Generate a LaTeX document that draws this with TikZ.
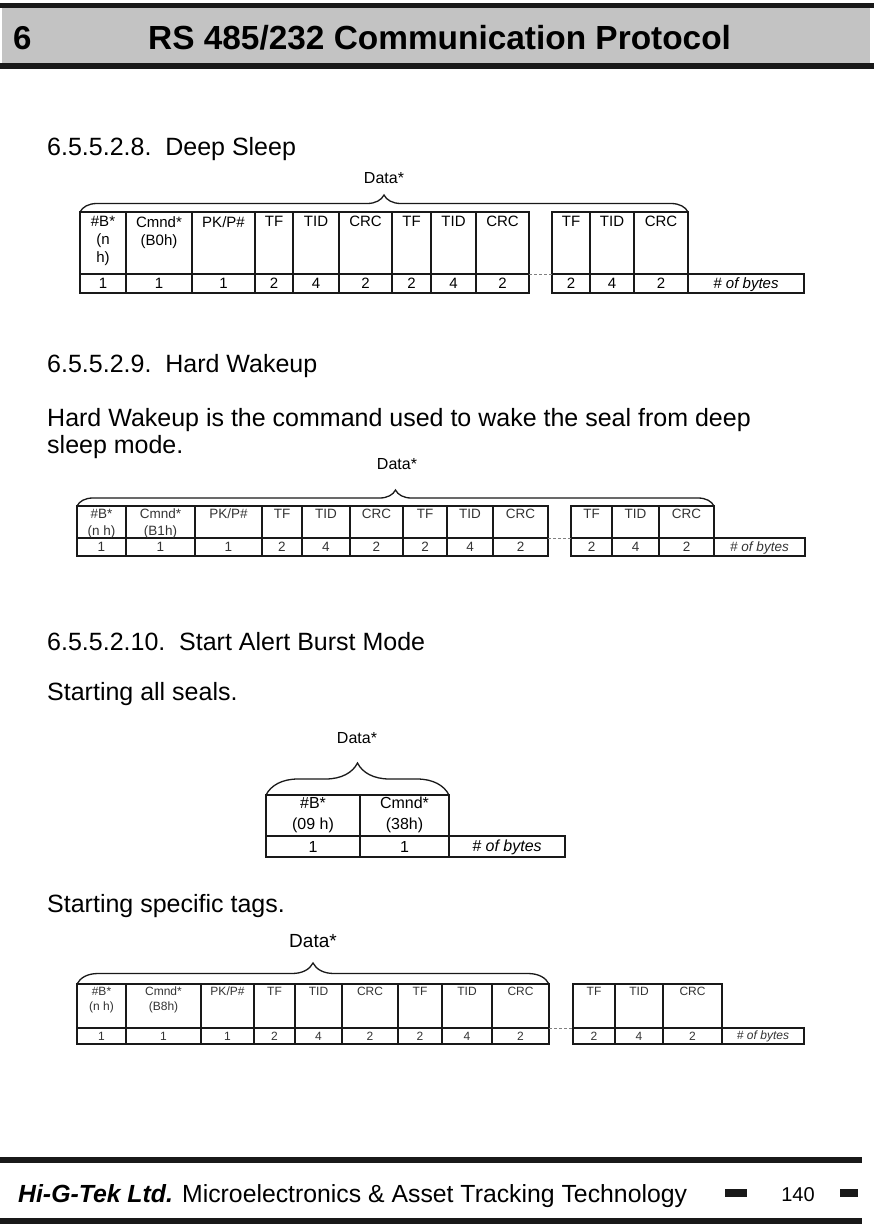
\documentclass[tikz,border=0pt]{standalone}
\usepackage{fontspec}
\setmainfont{Liberation Sans}
\usepackage{xcolor}
\definecolor{headgray}{RGB}{195,195,195}
\definecolor{ink}{RGB}{25,25,25}
\usetikzlibrary{decorations.pathreplacing}
\tikzset{
  frame/.style={draw=ink, line width=1.3pt},
  hdr/.style={anchor=north, inner sep=0pt, align=center},
  num/.style={inner sep=0pt},
  gapline/.style={densely dashed, draw=gray, line width=0.8pt},
  databrace/.style={decorate, decoration={brace, amplitude=#1}, line width=1.3pt, draw=ink},
  datalbl/.style={inner sep=0pt, font=\fontsize{16}{19}\selectfont},
  bodytxt/.style={anchor=base west, inner sep=0pt, font=\fontsize{25}{30}\selectfont}
}

\begin{document}
\begin{tikzpicture}[x=1pt, y=-1pt]
  \useasboundingbox (0,0) rectangle (874,1224);
  %% 1. Header and footer
  \fill[ink] (0,3) rectangle (874,8);
  \fill[headgray] (2,8) rectangle (870,63);
  \fill[ink] (0,63) rectangle (874,69);
  \node[anchor=base west, inner sep=0pt, font=\bfseries\fontsize{33}{40}\selectfont] (chap) at (13,49) {6};
  \node[anchor=base west, inner sep=0pt, font=\bfseries\fontsize{33.4}{40}\selectfont] (title) at (148,49) {RS 485/232 Communication Protocol};

  \fill[ink] (0,1157) rectangle (862,1163);
  \fill[ink] (0,1218) rectangle (862,1224);
  \node[anchor=base west, inner sep=0pt, font=\fontsize{24.8}{29}\selectfont] (firm) at (18,1202) {\textbf{\textit{Hi-G-Tek Ltd.}} Microelectronics \& Asset Tracking Technology};
  \fill[ink] (725,1189) rectangle (747,1197);
  \node[anchor=base, inner sep=0pt, font=\fontsize{20}{24}\selectfont] (page) at (798,1201) {140};
  \fill[ink] (840,1189) rectangle (858,1197);

  %% 2. Texts
  \node[bodytxt] (sec-ds) at (47,155) {6.5.5.2.8.\ \ Deep Sleep};
  \node[bodytxt] (sec-hw) at (47,372) {6.5.5.2.9.\ \ Hard Wakeup};
  \node[bodytxt] (txt-hw1) at (47,426) {Hard Wakeup is the command used to wake the seal from deep};
  \node[bodytxt] (txt-hw2) at (47,453) {sleep mode.};
  \node[bodytxt] (sec-ab) at (47,650) {6.5.5.2.10.\ \ Start Alert Burst Mode};
  \node[bodytxt] (txt-all) at (47,700) {Starting all seals.};
  \node[bodytxt] (txt-tags) at (47,912) {Starting specific tags.};

  %% 3. Deep Sleep frame
  \begin{scope}[font=\fontsize{15}{18}\selectfont]
    \foreach \xa/\xb/\hd/\nb [count=\i] in {80/126/{\#B*\\(n\\h)}/1, 126/192/{Cmnd*\\(B0h)}/1,
        192/255/{PK/P\#}/1, 255/293/TF/2, 293/339/TID/4, 339/392/CRC/2, 392/431/TF/2,
        431/476/TID/4, 476/529/CRC/2, 552/590/TF/2, 590/634/TID/4, 634/688/CRC/2} {
      \draw[frame] (\xa,212) rectangle (\xb,293);
      \draw[frame] (\xa,274) -- (\xb,274);
      \node[hdr] (ds-h\i) at ({(\xa+\xb)/2},216) {\hd};
      \node[num] (ds-n\i) at ({(\xa+\xb)/2},283.5) {\nb};
    }
    \draw[frame] (688,274) rectangle (804,293);
    \node[num, font=\itshape\fontsize{15}{18}\selectfont] (ds-bytes) at (746,284.5) {\# of bytes};
  \end{scope}
  \coordinate (ds-gapa) at (529,274);
  \coordinate (ds-gapb) at (552,274);
  \draw[gapline] (ds-gapa) -- (ds-gapb);
  \draw[databrace=17pt] (80,212) -- (688,212);
  \node[datalbl] (ds-data) at (384,178) {Data*};

  %% 4. Hard Wakeup frame
  \begin{scope}[font=\fontsize{13.5}{17}\selectfont, text=black!80]
    \foreach \xa/\xb/\hd/\nb [count=\i] in {77/126/{\#B*\\(n h)}/1, 126/195/{Cmnd*\\(B1h)}/1,
        195/262/{PK/P\#}/1, 262/302/TF/2, 302/350/TID/4, 350/403/CRC/2, 403/447/TF/2,
        447/493/TID/4, 493/548/CRC/2, 571/612/TF/2, 612/659/TID/4, 659/714/CRC/2} {
      \draw[frame, line width=1.2pt] (\xa,506) rectangle (\xb,556);
      \draw[frame, line width=1.2pt] (\xa,538) -- (\xb,538);
      \node[hdr] (hw-h\i) at ({(\xa+\xb)/2},509) {\hd};
      \node[num] (hw-n\i) at ({(\xa+\xb)/2},547) {\nb};
    }
    \draw[frame, line width=1.2pt] (714,538) rectangle (805,556);
    \node[num, font=\itshape\fontsize{13.5}{17}\selectfont] (hw-bytes) at (759.5,548) {\# of bytes};
  \end{scope}
  \coordinate (hw-gapa) at (548,538);
  \coordinate (hw-gapb) at (571,538);
  \draw[gapline] (hw-gapa) -- (hw-gapb);
  \draw[databrace=16pt] (77,506) -- (714,506);
  \node[datalbl] (hw-data) at (397,464) {Data*};

  %% 5. Alert Burst frame (all seals)
  \begin{scope}[font=\fontsize{16}{21}\selectfont]
    \foreach \xa/\xb/\hd/\nb [count=\i] in {266/360/{\#B*\\(09 h)}/1, 360/449/{Cmnd*\\(38h)}/1} {
      \draw[frame] (\xa,795) rectangle (\xb,857);
      \draw[frame] (\xa,836) -- (\xb,836);
      \node[hdr] (ab-h\i) at ({(\xa+\xb)/2},797) {\hd};
      \node[num] (ab-n\i) at ({(\xa+\xb)/2},846.5) {\nb};
    }
    \draw[frame] (449,836) rectangle (565,857);
    \node[num, font=\itshape\fontsize{16}{21}\selectfont] (ab-bytes) at (507,847.5) {\# of bytes};
  \end{scope}
  \draw[databrace=32pt] (266,795) -- (449,795);
  \node[datalbl] (ab-data) at (357,738) {Data*};

  %% 6. Alert Burst frame (specific tags)
  \begin{scope}[font=\fontsize{12}{15}\selectfont, text=black!80]
    \foreach \xa/\xb/\hd/\nb [count=\i] in {77/126/{\#B*\\(n h)}/1, 126/201/{Cmnd*\\(B8h)}/1,
        201/254/{PK/P\#}/1, 254/295/TF/2, 295/342/TID/4, 342/398/CRC/2, 398/442/TF/2,
        442/492/TID/4, 492/549/CRC/2, 573/615/TF/2, 615/663/TID/4, 663/722/CRC/2} {
      \draw[frame, line width=1.2pt] (\xa,984) rectangle (\xb,1044);
      \draw[frame, line width=1.2pt] (\xa,1028) -- (\xb,1028);
      \node[hdr] (st-h\i) at ({(\xa+\xb)/2},987) {\hd};
      \node[num] (st-n\i) at ({(\xa+\xb)/2},1036) {\nb};
    }
    \draw[frame, line width=1.2pt] (722,1028) rectangle (804,1044);
    \node[num, font=\itshape\fontsize{12}{15}\selectfont] (st-bytes) at (763,1036.5) {\# of bytes};
  \end{scope}
  \coordinate (st-gapa) at (549,1028);
  \coordinate (st-gapb) at (573,1028);
  \draw[gapline] (st-gapa) -- (st-gapb);
  \draw[databrace=21pt] (77,984) -- (549,984);
  \node[datalbl, font=\fontsize{19}{23}\selectfont] (st-data) at (313,941) {Data*};
\end{tikzpicture}
\end{document}
